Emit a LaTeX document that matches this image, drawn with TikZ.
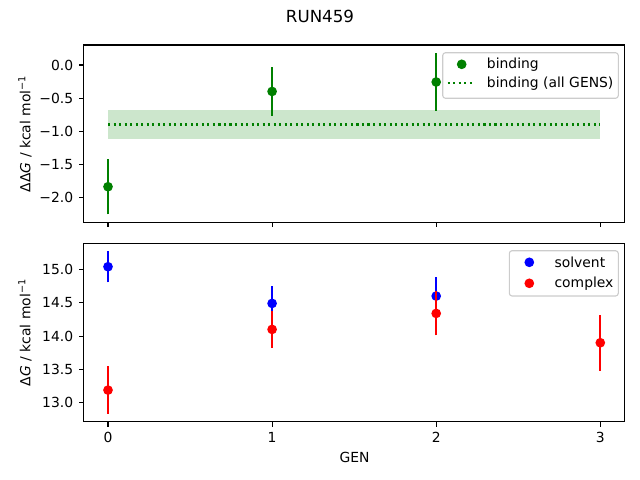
\documentclass[tikz,border=0pt]{standalone}
\usepackage{fontspec}
\setmainfont{DejaVu Sans}
\definecolor{mplgreen}{RGB}{0,128,0}
\begin{document}
\begin{tikzpicture}[x=0.72pt,y=-0.72pt,
    spine/.style={line width=0.8pt},
    tickmark/.style={line width=0.8pt},
    ticklabel/.style={font=\fontsize{10}{12}\selectfont, inner sep=0pt},
    axlabel/.style={font=\fontsize{10}{12}\selectfont, inner sep=0pt},
    errbar/.style={line width=1.5pt},
    dot/.style={circle, inner sep=0pt, minimum size=7pt},
    legendbox/.style={draw=black!20, fill=white, fill opacity=0.8, rounded corners=2pt, line width=0.8pt},
    legendtext/.style={font=\fontsize{10}{12}\selectfont, inner sep=0pt, anchor=west}]
    \useasboundingbox (0,0) rectangle (640,480);
    \node[font=\fontsize{12}{14}\selectfont, inner sep=0pt] (title) at (320,16.5) {RUN459};
    \begin{scope}[shift={(77.76pt,-46.8pt)}, x=118.15pt, y=47.63pt]
        \fill[mplgreen, fill opacity=0.2] (0,-1.12) rectangle (3,-0.68);
        \draw[mplgreen, line width=1.5pt, dash pattern=on 1.5pt off 2.475pt] (0,-0.9) -- (3,-0.9);
        \foreach \g/\v/\e in {0/-1.84/0.418, 1/-0.40/0.366, 2/-0.257/0.434}
            {
                \draw[errbar, mplgreen] (\g,\v-\e) -- (\g,\v+\e);
                \node[dot, fill=mplgreen] (bind\g) at (\g,\v) {};
            }
        \draw[spine] (-0.15,-2.382) rectangle (3.15,0.302);
        \foreach \t/\l in {0/0.0, -0.5/−0.5, -1/−1.0, -1.5/−1.5, -2/−2.0}
            {
                \draw[tickmark] (-0.15,\t) -- ++(-3.5pt,0) node[ticklabel, anchor=east, xshift=-3.5pt] {\l};
            }
        \foreach \x in {0,1,2,3}
            {
                \draw[tickmark] (\x,-2.382) -- ++(0,-3.5pt);
            }
    \end{scope}
    \begin{scope}[shift={(77.76pt,-914.26pt)}, x=118.15pt, y=48.02pt]
        \foreach \g/\v/\e in {0/15.04/0.235, 1/14.49/0.26, 2/14.60/0.29}
            {
                \draw[errbar, blue] (\g,\v-\e) -- (\g,\v+\e);
                \node[dot, fill=blue] (solv\g) at (\g,\v) {};
            }
        \foreach \g/\v/\e in {0/13.19/0.358, 1/14.10/0.275, 2/14.34/0.33, 3/13.90/0.417}
            {
                \draw[errbar, red] (\g,\v-\e) -- (\g,\v+\e);
                \node[dot, fill=red] (cplx\g) at (\g,\v) {};
            }
        \draw[spine] (-0.15,12.713) rectangle (3.15,15.392);
        \foreach \t in {13.0,13.5,14.0,14.5,15.0}
            {
                \draw[tickmark] (-0.15,\t) -- ++(-3.5pt,0) node[ticklabel, anchor=east, xshift=-3.5pt] {\t};
            }
        \foreach \x in {0,1,2,3}
            {
                \draw[tickmark] (\x,12.713) -- ++(0,-3.5pt) node[ticklabel, anchor=north, yshift=-3.5pt] {\x};
            }
    \end{scope}
    \node[axlabel, rotate=90] (ylabtop) at (25,133.8) {ΔΔ\textit{G} / kcal mol\textsuperscript{−1}};
    \node[axlabel, rotate=90] (ylabbot) at (25,332.5) {Δ\textit{G} / kcal mol\textsuperscript{−1}};
    \node[axlabel] (xlab) at (354.5,457.7) {GEN};
    \draw[legendbox] (442.7,52.7) rectangle (618.3,98.3);
    \node[dot, fill=mplgreen] (legbind) at (461.7,64.3) {};
    \node[legendtext] (legbindtxt) at (486.7,64.3) {binding};
    \draw[mplgreen, line width=1.5pt, dash pattern=on 1.5pt off 2.475pt] (447.7,83.3) -- (475,83.3);
    \node[legendtext] (legalltxt) at (486.7,83.3) {binding (all GENS)};
    \draw[legendbox] (509.3,250.7) rectangle (618.3,296);
    \node[dot, fill=blue] (legsolv) at (529.3,262.3) {};
    \node[legendtext] (legsolvtxt) at (554.3,262.3) {solvent};
    \node[dot, fill=red] (legcplx) at (529.3,283.3) {};
    \node[legendtext] (legcplxtxt) at (554.3,283.3) {complex};
\end{tikzpicture}
\end{document}
